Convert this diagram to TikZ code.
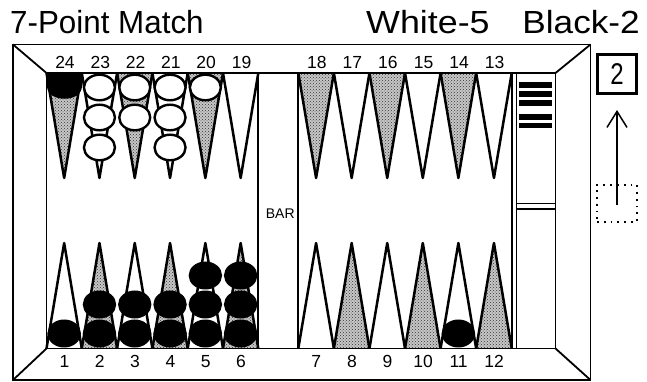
\documentclass[tikz,border=0pt]{standalone}
\usepackage{fontspec}
\setmainfont{Liberation Sans}
\usetikzlibrary{arrows.meta,patterns}
\begin{document}
\begin{tikzpicture}[x=1pt,y=-1pt,
  frame/.style={line width=1.8pt, line join=miter},
  ptline/.style={line width=2.5pt, line join=round},
  ptshade/.style={fill=black!22},
  pthatch/.style={pattern=crosshatch dots, pattern color=black!80},
  lab/.style={font=\fontsize{17.5}{18}\selectfont, inner sep=0pt, anchor=base},
  title/.style={font=\fontsize{32}{34}\selectfont, inner sep=0pt},
  wchk/.style={draw, line width=2.4pt, fill=white},
  bchk/.style={draw, line width=2.4pt, fill=black},
]
\fill[white] (0,0) rectangle (647,382);
\useasboundingbox (0,0) rectangle (647,382);

% titles
\node[title, anchor=base west] (ttl) at (10,34) {\scalebox{0.98}[1]{7-Point Match}};
\node[title, anchor=base west] (sw) at (366,34) {\scalebox{1.12}[1]{White-5}};
\node[title, anchor=base east] (sb) at (640,34) {\scalebox{1.1}[1]{Black-2}};

% points: top-left 24..19
\foreach \i in {0,2,4}{
  \pgfmathsetmacro\xl{46.5+35.3*\i}
  \fill[ptshade] (\xl,73) -- (\xl+17.65,178) -- (\xl+35.3,73) -- cycle;
  \fill[pthatch] (\xl,73) -- (\xl+17.65,178) -- (\xl+35.3,73) -- cycle;
}
\foreach \i in {0,...,5}{
  \pgfmathsetmacro\xl{46.5+35.3*\i}
  \pgfmathtruncatemacro\lab{24-\i}
  \draw[ptline] (\xl,73) -- (\xl+17.65,178) -- (\xl+35.3,73);
  \node[lab] (t\lab) at (\xl+18.5,69) {\lab};
}
% top-right 18..13
\foreach \i in {0,2,4}{
  \pgfmathsetmacro\xl{298.3+35.57*\i}
  \fill[ptshade] (\xl,73) -- (\xl+17.785,178) -- (\xl+35.57,73) -- cycle;
  \fill[pthatch] (\xl,73) -- (\xl+17.785,178) -- (\xl+35.57,73) -- cycle;
}
\foreach \i in {0,...,5}{
  \pgfmathsetmacro\xl{298.3+35.57*\i}
  \pgfmathtruncatemacro\lab{18-\i}
  \draw[ptline] (\xl,73) -- (\xl+17.785,178) -- (\xl+35.57,73);
  \node[lab] (t\lab) at (\xl+18.5,69) {\lab};
}
% bottom-left 1..6
\foreach \i in {1,3,5}{
  \pgfmathsetmacro\xl{46.5+35.3*\i}
  \fill[ptshade] (\xl,348.5) -- (\xl+17.65,243) -- (\xl+35.3,348.5) -- cycle;
  \fill[pthatch] (\xl,348.5) -- (\xl+17.65,243) -- (\xl+35.3,348.5) -- cycle;
}
\foreach \i in {0,...,5}{
  \pgfmathsetmacro\xl{46.5+35.3*\i}
  \pgfmathtruncatemacro\lab{1+\i}
  \draw[ptline] (\xl,348.5) -- (\xl+17.65,243) -- (\xl+35.3,348.5);
  \node[lab] (b\lab) at (\xl+18,367.5) {\lab};
}
% bottom-right 7..12
\foreach \i in {1,3,5}{
  \pgfmathsetmacro\xl{298.3+35.57*\i}
  \fill[ptshade] (\xl,348.5) -- (\xl+17.785,243) -- (\xl+35.57,348.5) -- cycle;
  \fill[pthatch] (\xl,348.5) -- (\xl+17.785,243) -- (\xl+35.57,348.5) -- cycle;
}
\foreach \i in {0,...,5}{
  \pgfmathsetmacro\xl{298.3+35.57*\i}
  \pgfmathtruncatemacro\lab{7+\i}
  \draw[ptline] (\xl,348.5) -- (\xl+17.785,243) -- (\xl+35.57,348.5);
  \node[lab] (b\lab) at (\xl+18,367.5) {\lab};
}

% checkers top (white, one black)
\fill (47,73) -- (82,73) -- (82,86) .. controls (82,103) and (47,103) .. (47,86) -- cycle;
\foreach \y in {87.5,117.5,147.5} \path[wchk] (99.45,\y) ellipse [x radius=15.5, y radius=12.8];
\foreach \y in {87.5,117.5} \path[wchk] (134.75,\y) ellipse [x radius=15.5, y radius=12.8];
\foreach \y in {87.5,117.5,147.5} \path[wchk] (170.05,\y) ellipse [x radius=15.5, y radius=12.8];
\foreach \y in {87.5} \path[wchk] (205.35,\y) ellipse [x radius=15.5, y radius=12.8];
% checkers bottom (black)
\path[bchk] (64.15,333.5) ellipse [x radius=15.5, y radius=12.8];
\foreach \x in {99.45,134.75,170.05}
  \foreach \y in {333.5,304.5} \path[bchk] (\x,\y) ellipse [x radius=15.5, y radius=12.8];
\foreach \x in {205.35,240.65}
  \foreach \y in {333.5,304.5,275.5} \path[bchk] (\x,\y) ellipse [x radius=15.5, y radius=12.8];
\path[bchk] (458.4,333.5) ellipse [x radius=15.5, y radius=12.8];

% frame
\draw[frame] (13,44.5) rectangle (590.5,380);
\draw[frame] (46.5,73) rectangle (555.5,348.5);
\draw[frame] (13,44.5) -- (46.5,73);
\draw[frame] (590.5,44.5) -- (555.5,73);
\draw[frame] (13,380) -- (46.5,348.5);
\draw[frame] (590.5,380) -- (555.5,348.5);

% bar
\draw[line width=2pt] (258.3,73) -- (258.3,348.5);
\draw[line width=2pt] (298.3,73) -- (298.3,348.5);
\node[font=\fontsize{14}{14}\selectfont, inner sep=0pt] (bar) at (280.3,213.3) {BAR};

% tray
\draw[line width=2.2pt] (512,73) -- (512,348.5);
\draw[line width=1.5pt] (516.5,73) -- (516.5,348.5);
\draw[line width=1.5pt] (516.5,203.3) -- (555.5,203.3);
\draw[line width=1.5pt] (516.5,209) -- (555.5,209);
\foreach \a/\b in {82/88,91/97,100/106,114/120,123/128}
  \fill (518.5,\a) rectangle (552,\b);

% die and move indicator
\node[draw, line width=3pt, minimum width=39pt, minimum height=39pt, inner sep=0pt]
  (die) at (617,74) {\scalebox{0.8}[1]{\fontsize{30}{30}\selectfont 2}};
\node[draw, line width=1.6pt, dash pattern=on 1.8pt off 5pt, minimum width=40pt, minimum height=37pt, inner sep=0pt]
  (dbox) at (617,203.2) {};
\draw[line width=1.5pt, -{Straight Barb[length=16pt,width=20pt]}, shorten >=15pt]
  ([yshift=-2pt]dbox.center) -- (die.south);
\end{tikzpicture}
\end{document}
